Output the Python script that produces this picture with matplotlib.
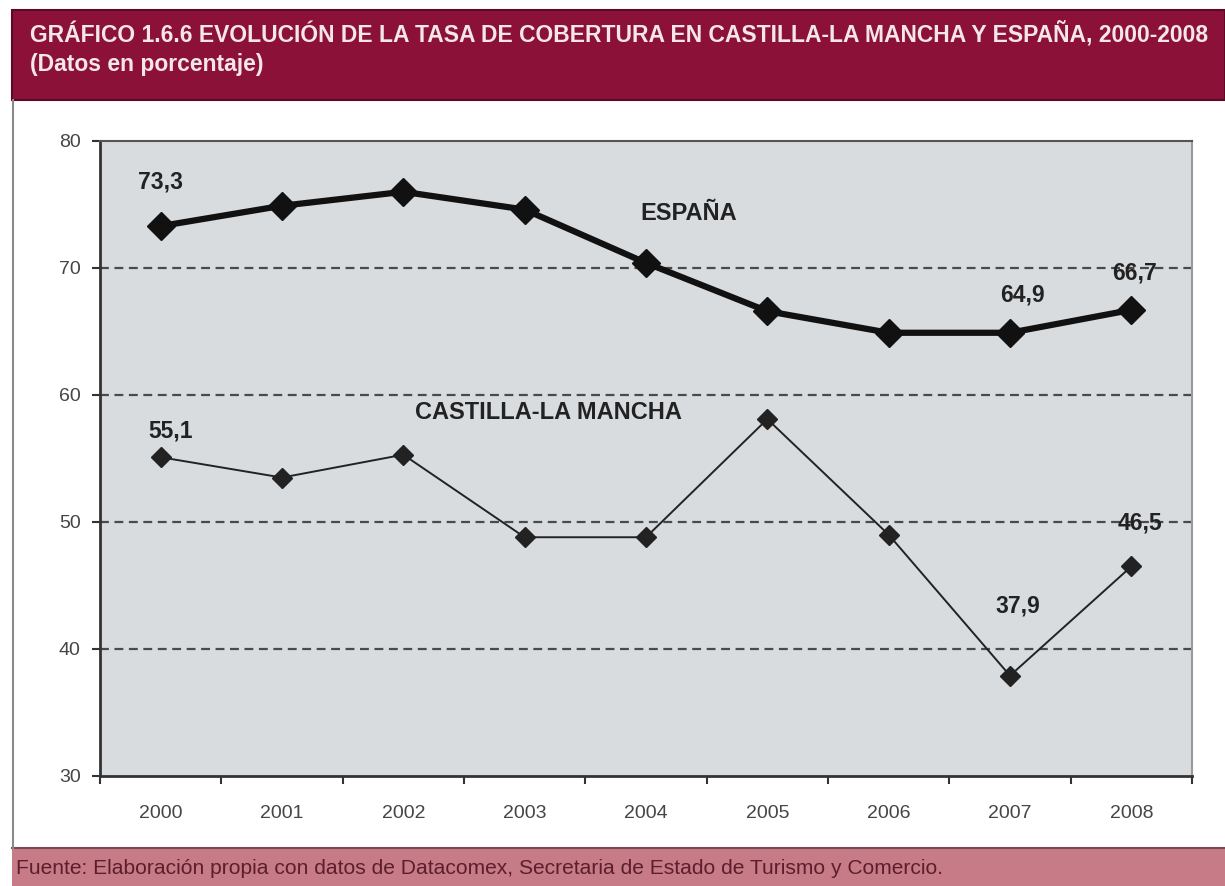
import matplotlib
matplotlib.use("Agg")
import matplotlib.pyplot as plt
from matplotlib.patches import Rectangle
from matplotlib.lines import Line2D
import numpy as np

# ---- data ----
years = ["2000", "2001", "2002", "2003", "2004", "2005", "2006", "2007", "2008"]
espana = [73.3, 74.9, 76.0, 74.6, 70.4, 66.6, 64.9, 64.9, 66.7]
clm = [55.1, 53.5, 55.3, 48.8, 48.8, 58.1, 49.0, 37.9, 46.5]
y_ticks = [30, 40, 50, 60, 70, 80]
title_line1 = "GRÁFICO 1.6.6 EVOLUCIÓN DE LA TASA DE COBERTURA EN CASTILLA-LA MANCHA Y ESPAÑA, 2000-2008"
title_line2 = "(Datos en porcentaje)"
source_text = "Fuente: Elaboración propia con datos de Datacomex, Secretaria de Estado de Turismo y Comercio."
label_espana = "ESPAÑA"
label_clm = "CASTILLA-LA MANCHA"

W, H = 1225, 886
fig = plt.figure(figsize=(W / 100, H / 100), dpi=100)
fig.patch.set_facecolor("white")

def fx(px):
    return px / W

def fy(py):
    return 1 - py / H

# title band
fig.patches.append(Rectangle((fx(12), fy(100)), fx(1225 - 12), 90 / H,
                             transform=fig.transFigure, facecolor="#8C1139",
                             edgecolor="#5a0a24", linewidth=1.5, zorder=0))
# footer band
fig.patches.append(Rectangle((fx(12), 0), fx(1225 - 12), (886 - 848) / H,
                             transform=fig.transFigure, facecolor="#C67B87",
                             edgecolor="none", zorder=0))
fig.lines.append(Line2D([fx(12), 1], [fy(848), fy(848)], transform=fig.transFigure,
                        color="#7a4a52", linewidth=1.5))
# left border line of white area
fig.lines.append(Line2D([fx(13), fx(13)], [fy(848), fy(100)], transform=fig.transFigure,
                        color="#8a8a8a", linewidth=1.5))

narrow = ["Liberation Sans Narrow", "Liberation Sans", "DejaVu Sans"]
t1 = fig.text(fx(30), fy(34), title_line1, color="#F4E6EA", fontsize=18,
              fontweight="bold", family=narrow, va="center", ha="left")
t2 = fig.text(fx(30), fy(65), title_line2, color="#F4E6EA", fontsize=18,
              fontweight="bold", family=narrow, va="center", ha="left")
ft = fig.text(fx(16), fy(868), source_text, color="#5B1F2B", fontsize=14,
              family=narrow, va="center", ha="left")

# fit title width to reference
fig.canvas.draw()
r = fig.canvas.get_renderer()
w1 = t1.get_window_extent(r).width
target = 1208 - 30
scale = target / w1
t1.set_fontsize(18 * scale)
t2.set_fontsize(18 * scale)
wf = ft.get_window_extent(r).width
ft.set_fontsize(14 * (948 - 16) / wf)

# axes
ax = fig.add_axes([fx(100), fy(776), fx(1192 - 100), (776 - 141) / H])
ax.set_facecolor("#D9DCDF")
x = np.arange(len(years))
ax.set_xlim(-0.5, len(years) - 0.5)
ax.set_ylim(30, 80)

for yv in y_ticks[1:-1]:
    ax.axhline(yv, color="#4a4a4a", linewidth=1.6, linestyle=(0, (4, 2.5)), zorder=1)

ax.plot(x, espana, color="#111111", linewidth=4.5, marker="D", markersize=14,
        zorder=3, solid_joinstyle="round")
ax.plot(x, clm, color="#222222", linewidth=1.4, marker="D", markersize=10,
        zorder=3)

ax.set_yticks(y_ticks)
ax.set_yticklabels([str(v) for v in y_ticks])
ax.set_xticks(np.arange(-0.5, len(years), 1.0))
ax.set_xticklabels([""] * (len(years) + 1))
ax.set_xticks(x, minor=True)
ax.set_xticklabels(years, minor=True)
ax.tick_params(axis="x", which="major", length=6, width=1.5, color="#333333", direction="out")
ax.tick_params(axis="x", which="minor", length=0, pad=21, labelsize=14, labelcolor="#454545")
ax.tick_params(axis="y", length=6, width=1.5, color="#333333", pad=8,
               labelsize=14, labelcolor="#454545")
for lab in ax.get_xticklabels(minor=True) + ax.get_yticklabels():
    lab.set_family(["Liberation Sans", "DejaVu Sans"])

ax.spines["left"].set_color("#333333")
ax.spines["left"].set_linewidth(2)
ax.spines["bottom"].set_color("#333333")
ax.spines["bottom"].set_linewidth(2)
ax.spines["top"].set_color("#555555")
ax.spines["top"].set_linewidth(1.5)
ax.spines["right"].set_color("#9a9a9a")
ax.spines["right"].set_linewidth(1.5)

lab_font = dict(fontsize=16.5, fontweight="bold", color="#222222",
                family=["Liberation Sans", "DejaVu Sans"], ha="center", va="center")

def annot(i, series, dx, dy):
    ax.annotate(f"{series[i]:.1f}".replace(".", ","), xy=(x[i], series[i]),
                xytext=(dx, dy), textcoords="offset pixels", **lab_font)

annot(0, espana, 0, 44)
annot(7, espana, 12, 38)
annot(8, espana, 3, 37)
annot(0, clm, 10, 26)
annot(7, clm, 8, 70)
annot(8, clm, 9, 43)

ax.text(4.35, 74.3, label_espana, fontsize=17, fontweight="bold", color="#222222",
        family=["Liberation Sans", "DejaVu Sans"], ha="center", va="center")
ax.text(3.2, 58.6, label_clm, fontsize=17, fontweight="bold", color="#222222",
        family=["Liberation Sans", "DejaVu Sans"], ha="center", va="center")

fig.savefig("out.png", dpi=100, facecolor="white")
